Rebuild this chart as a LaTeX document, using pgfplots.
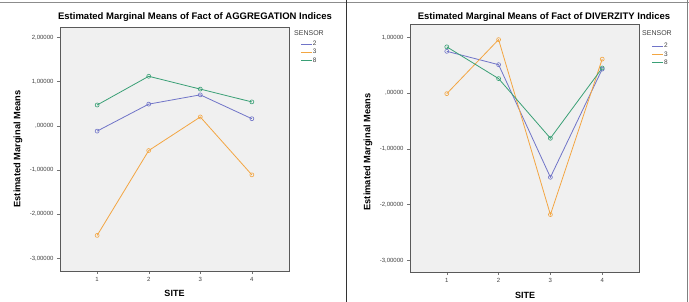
\documentclass[border=0pt]{standalone}
\usepackage{pgfplots}
\pgfplotsset{compat=1.18}
\usepackage{fontspec}
\setmainfont{Liberation Sans}
\definecolor{cblue}{RGB}{112,116,200}
\definecolor{corange}{RGB}{243,166,66}
\definecolor{cgreen}{RGB}{58,160,118}
\definecolor{plotbg}{RGB}{240,240,240}
\pgfplotsset{
  spss/.style={
    scale only axis,
    width=229pt,
    axis background/.style={fill=plotbg},
    axis line style={draw=black!65},
    xtick={1,2,3,4},
    xticklabels={1,2,3,4},
    tick align=outside,
    major tick length=3pt,
    tick style={draw=black!55},
    xtick pos=bottom, ytick pos=left,
    ticklabel style={font=\fontsize{6}{7}\selectfont, text=black!75},
    /pgf/number format/assume math mode=true,
    every axis plot/.append style={line width=0.8pt, mark=o, mark size=2pt, mark options={line width=0.6pt}},
    legend image code/.code={\draw[mark=none,#1] (0pt,0pt) -- (11pt,0pt);},
    legend style={draw=none, fill=none, inner sep=0pt, row sep=1.2pt,
      font=\fontsize{6.5}{7}\selectfont, nodes={inner sep=0.5pt}, text=black!75},
    legend cell align=left,
  }
}
\begin{document}
\begin{tikzpicture}
\useasboundingbox (0pt,0pt) rectangle (689pt,302pt);
\draw[black!45, line width=0.8pt] (0pt,300pt) -- (689pt,300pt);
\draw[black!80, line width=0.8pt] (346.5pt,0pt) -- (346.5pt,302pt);
\draw[black!50, line width=0.8pt] (687pt,0pt) -- (687pt,302pt);
% left chart
\begin{axis}[spss, at={(60pt,31pt)}, anchor=south west, height=244pt,
  xmin=0.28, xmax=4.72, ymin=-3.285, ymax=2.235,
  ytick={-3,-2,-1,0,1,2},
  yticklabels={{-3,00000},{-2,00000},{-1,00000},{,00000},{1,00000},{2,00000}},
  legend style={at={(1.05,0.945)}, anchor=north west}]
\addplot[cblue] coordinates {(1,-0.12) (2,0.49) (3,0.70) (4,0.16)};
\addlegendentry{2}
\addplot[corange] coordinates {(1,-2.48) (2,-0.56) (3,0.20) (4,-1.11)};
\addlegendentry{3}
\addplot[cgreen] coordinates {(1,0.47) (2,1.12) (3,0.83) (4,0.54)};
\addlegendentry{8}
\end{axis}
\node[font=\fontsize{9.5}{11}\selectfont\bfseries] at (195pt,285.3pt) {Estimated Marginal Means of Fact of AGGREGATION Indices};
\node[font=\fontsize{7}{8}\selectfont, text=black!75, anchor=west, inner sep=0pt] at (294pt,269pt) {SENSOR};
\node[font=\fontsize{9.3}{11}\selectfont\bfseries, rotate=90] at (18pt,153pt) {Estimated Marginal Means};
\node[font=\fontsize{9}{10}\selectfont\bfseries] at (174.5pt,9pt) {SITE};
% right chart
\begin{axis}[spss, at={(410pt,30pt)}, anchor=south west, height=248pt,
  xmin=0.29, xmax=4.71, ymin=-3.21, ymax=1.24,
  ytick={-3,-2,-1,0,1},
  yticklabels={{-3,00000},{-2,00000},{-1,00000},{,00000},{1,00000}},
  legend style={at={(1.055,0.925)}, anchor=north west}]
\addplot[cblue] coordinates {(1,0.75) (2,0.51) (3,-1.51) (4,0.43)};
\addlegendentry{2}
\addplot[corange] coordinates {(1,-0.01) (2,0.96) (3,-2.18) (4,0.61)};
\addlegendentry{3}
\addplot[cgreen] coordinates {(1,0.83) (2,0.26) (3,-0.81) (4,0.45)};
\addlegendentry{8}
\end{axis}
\node[font=\fontsize{9.5}{11}\selectfont\bfseries] at (544pt,285.3pt) {Estimated Marginal Means of Fact of DIVERZITY Indices};
\node[font=\fontsize{7}{8}\selectfont, text=black!75, anchor=west, inner sep=0pt] at (642pt,268.7pt) {SENSOR};
\node[font=\fontsize{9.3}{11}\selectfont\bfseries, rotate=90] at (368pt,150pt) {Estimated Marginal Means};
\node[font=\fontsize{9}{10}\selectfont\bfseries] at (525pt,7pt) {SITE};
\end{tikzpicture}
\end{document}
